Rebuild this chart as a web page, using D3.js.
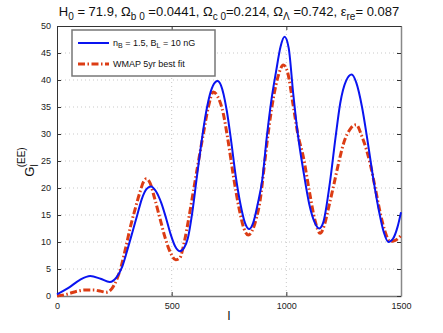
<!DOCTYPE html>
<html>
<head>
<meta charset="utf-8">
<script src="https://cdn.jsdelivr.net/npm/d3@7"></script>
<style>
  body { margin: 0; background: #fff; }
  text { font-family: "Liberation Sans", Arial, sans-serif; }
</style>
</head>
<body>
<div id="chart"></div>
<script>
// multipole l and spectra
const magL = [0, 50, 100, 145, 190, 230, 260, 285, 310, 330, 350, 370, 390, 410, 430, 455, 475, 495, 515, 535, 555, 570, 590, 610, 630, 650, 670, 690, 700, 715, 740, 760, 780, 800, 820, 838, 855, 875, 895, 915, 935, 955, 975, 992, 1010, 1030, 1050, 1075, 1100, 1125, 1143, 1160, 1190, 1215, 1235, 1260, 1285, 1305, 1330, 1355, 1380, 1405, 1425, 1445, 1465, 1485, 1500];
const magVals = [0.3, 1.5, 3.0, 3.7, 3.2, 2.6, 3.5, 5.5, 9.0, 12.0, 15.0, 18.0, 19.8, 20.3, 19.5, 17.2, 14.5, 11.5, 9.2, 8.3, 9.0, 10.6, 15.5, 22.1, 28.5, 34.0, 37.8, 39.6, 39.8, 39.0, 34.4, 28.5, 22.0, 17.0, 13.5, 12.4, 13.5, 17.0, 21.5, 29.5, 36.3, 41.5, 46.2, 48.0, 46.0, 37.5, 30.0, 23.0, 17.0, 13.5, 12.5, 13.5, 21.0, 29.5, 35.7, 39.8, 41.0, 39.5, 35.0, 28.5, 21.5, 15.5, 11.8, 10.0, 10.6, 12.8, 15.5];

const wmapL = [0, 40, 80, 120, 160, 190, 215, 240, 260, 280, 300, 320, 340, 360, 378, 390, 405, 425, 450, 470, 495, 517, 535, 555, 575, 595, 615, 638, 660, 682, 700, 725, 745, 770, 795, 815, 834, 850, 870, 885, 905, 925, 945, 965, 987, 1005, 1031, 1050, 1074, 1100, 1125, 1147, 1165, 1185, 1205, 1230, 1250, 1280, 1305, 1330, 1350, 1365, 1390, 1410, 1430, 1452, 1475, 1500];
const wmapVals = [0, 0.3, 0.8, 1.1, 1.1, 0.9, 0.7, 1.4, 3.0, 5.5, 9.0, 12.8, 16.0, 19.0, 21.2, 21.7, 21.0, 18.2, 14.2, 11.0, 8.0, 6.7, 7.0, 10.0, 14.5, 19.5, 24.5, 30.0, 35.0, 37.8, 37.0, 33.8, 29.0, 22.0, 16.0, 12.5, 11.3, 12.0, 14.5, 17.5, 24.5, 31.5, 37.0, 40.8, 42.8, 41.5, 35.0, 30.0, 25.8, 19.5, 14.0, 11.6, 13.0, 16.5, 20.2, 25.0, 28.3, 31.0, 31.7, 29.5, 27.0, 24.6, 19.5, 15.3, 12.0, 10.1, 10.3, 11.2];

const xTicks = [0, 500, 1000, 1500];
const yTicks = [0, 5, 10, 15, 20, 25, 30, 35, 40, 45, 50];

const W = 443, H = 333;
const margin = {top: 26, right: 42, bottom: 37, left: 57};
const width = W - margin.left - margin.right;
const height = H - margin.top - margin.bottom;

const svg = d3.select("#chart").append("svg")
    .attr("width", W)
    .attr("height", H);

const g = svg.append("g")
    .attr("transform", "translate(" + margin.left + "," + margin.top + ")");

const x = d3.scaleLinear().domain([0, 1500]).range([0, width]);
const y = d3.scaleLinear().domain([0, 50]).range([height, 0]);

// dotted grid
g.append("g").selectAll("line.vg")
    .data(xTicks.slice(1, -1))
    .join("line")
    .attr("x1", d => x(d)).attr("x2", d => x(d))
    .attr("y1", 0).attr("y2", height)
    .attr("stroke", "#bbb").attr("stroke-width", 0.8)
    .attr("stroke-dasharray", "1,3");
g.append("g").selectAll("line.hg")
    .data(yTicks.slice(1, -1))
    .join("line")
    .attr("x1", 0).attr("x2", width)
    .attr("y1", d => y(d)).attr("y2", d => y(d))
    .attr("stroke", "#bbb").attr("stroke-width", 0.8)
    .attr("stroke-dasharray", "1,3");

// axes with inward ticks
const tickFmt = d3.format("d");
const xAx = g.append("g").attr("transform", "translate(0," + height + ")")
    .call(d3.axisBottom(x).tickValues(xTicks).tickFormat(tickFmt).tickSizeInner(-4).tickSizeOuter(0).tickPadding(7));
const xTop = g.append("g")
    .call(d3.axisTop(x).tickValues(xTicks).tickFormat("").tickSizeInner(-4).tickSizeOuter(0));
const yAx = g.append("g")
    .call(d3.axisLeft(y).tickValues(yTicks).tickFormat(tickFmt).tickSizeInner(-4).tickSizeOuter(0).tickPadding(6));
const yRight = g.append("g").attr("transform", "translate(" + width + ",0)")
    .call(d3.axisRight(y).tickValues(yTicks).tickFormat("").tickSizeInner(-4).tickSizeOuter(0));

[xAx, xTop, yAx, yRight].forEach(a => {
    a.select(".domain").attr("stroke", "#333");
    a.selectAll(".tick line").attr("stroke", "#333");
    a.selectAll("text").attr("font-size", 9).attr("fill", "#222")
        .style("font-family", "Liberation Sans, Arial, sans-serif");
});
xAx.select(".domain").attr("stroke", "#777").attr("stroke-width", 1.5);
yRight.select(".domain").attr("stroke", "#888").attr("stroke-width", 1.5);

const line = d3.line()
    .x(d => x(d[0]))
    .y(d => y(d[1]))
    .curve(d3.curveMonotoneX);

const magData = magL.map((l, i) => [l, magVals[i]]);
const wmapData = wmapL.map((l, i) => [l, wmapVals[i]]);

g.append("path")
    .datum(wmapData)
    .attr("d", line)
    .attr("fill", "none")
    .attr("stroke", "#dc3c14")
    .attr("stroke-width", 3)
    .attr("stroke-dasharray", "7,2.5,1.5,2.5");

g.append("path")
    .datum(magData)
    .attr("d", line)
    .attr("fill", "none")
    .attr("stroke", "#0a14f0")
    .attr("stroke-width", 2);

// legend
const leg = svg.append("g").attr("transform", "translate(72,30)");
leg.append("rect")
    .attr("width", 143).attr("height", 46)
    .attr("fill", "#fff").attr("stroke", "#777").attr("stroke-width", 1.5);
leg.append("line")
    .attr("x1", 6).attr("x2", 37).attr("y1", 13).attr("y2", 13)
    .attr("stroke", "#0a14f0").attr("stroke-width", 2);
leg.append("line")
    .attr("x1", 6).attr("x2", 37).attr("y1", 34).attr("y2", 34)
    .attr("stroke", "#dc3c14").attr("stroke-width", 3)
    .attr("stroke-dasharray", "7,2.5,1.5,2.5");

const t1 = leg.append("text").attr("x", 41).attr("y", 16).attr("font-size", 9).attr("fill", "#111");
t1.append("tspan").text("n");
t1.append("tspan").attr("baseline-shift", "-30%").attr("font-size", 7).text("B");
t1.append("tspan").text(" = 1.5, B");
t1.append("tspan").attr("baseline-shift", "-30%").attr("font-size", 7).text("L");
t1.append("tspan").text(" = 10 nG");

leg.append("text").attr("x", 41).attr("y", 37).attr("font-size", 9).attr("fill", "#111")
    .text("WMAP 5yr best fit");

// title
const title = svg.append("text")
    .attr("x", 229).attr("y", 16)
    .attr("text-anchor", "middle")
    .attr("font-size", 13).attr("fill", "#111");
const parts = [
    ["H", null], ["0", "sub"], [" = 71.9, \u03A9", null], ["b 0", "sub"],
    [" =0.0441, \u03A9", null], ["c 0", "sub"], ["=0.214, \u03A9", null], ["\u039B", "sub"],
    [" =0.742, \u03B5", null], ["re", "sub"], ["= 0.087", null]
];
parts.forEach(p => {
    const ts = title.append("tspan").text(p[0]);
    if (p[1] === "sub") ts.attr("baseline-shift", "-35%").attr("font-size", 10);
});

// axis labels
svg.append("text")
    .attr("x", 229).attr("y", 320)
    .attr("text-anchor", "middle")
    .attr("font-size", 13).attr("fill", "#111")
    .text("l");

const yl = svg.append("text")
    .attr("transform", "translate(34,162) rotate(-90)")
    .attr("text-anchor", "middle")
    .attr("font-size", 13).attr("fill", "#111");
yl.append("tspan").text("G");
yl.append("tspan").attr("baseline-shift", "-35%").attr("font-size", 10).text("l");
yl.append("tspan").attr("dx", -3).attr("dy", -9).attr("font-size", 10).text("(EE)");
</script>
</body>
</html>
